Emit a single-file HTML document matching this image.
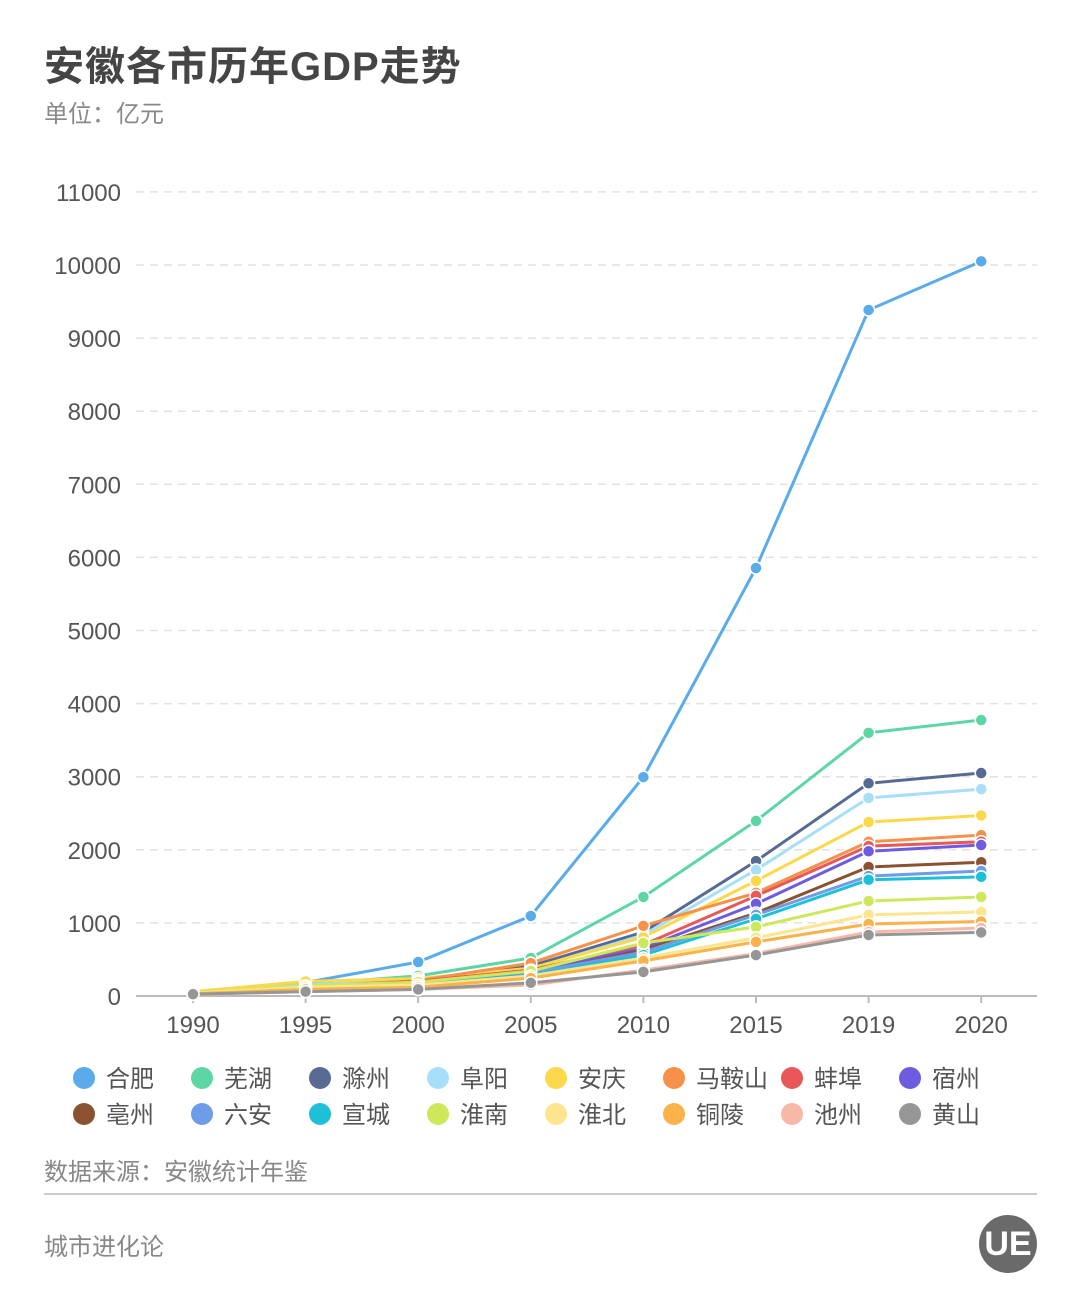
<!DOCTYPE html>
<html><head><meta charset="utf-8">
<style>
body{margin:0;background:#fff;font-family:"Liberation Sans","Noto Sans CJK SC",sans-serif;}
#wrap{position:relative;width:1080px;height:1296px;overflow:hidden;}
.t{position:absolute;white-space:nowrap;}
</style></head><body>
<div id="wrap">
<div class="t" style="left:44px;top:34px;font-size:40px;font-weight:bold;color:#454545;letter-spacing:1px;">安徽各市历年GDP走势</div>
<div class="t" style="left:44px;top:94px;font-size:24px;color:#888;">单位：亿元</div>
<svg id="chart" width="1080" height="1150" style="position:absolute;left:0;top:0"></svg>
<div class="t" style="left:44px;top:1152px;font-size:24px;color:#888;">数据来源：安徽统计年鉴</div>
<div style="position:absolute;left:44px;top:1193px;width:993px;height:2px;background:#ccc;"></div>
<div class="t" style="left:44px;top:1227px;font-size:24px;color:#888;">城市进化论</div>
<div style="position:absolute;left:979px;top:1215px;width:58px;height:58px;border-radius:50%;background:#6a6a6a;color:#fff;font-size:34px;font-weight:bold;text-align:center;line-height:58px;">UE</div>
</div>
<script>
const years=['1990','1995','2000','2005','2010','2015','2019','2020'];
const yTicks=[0,1000,2000,3000,4000,5000,6000,7000,8000,9000,10000,11000];
const names=['合肥','芜湖','滁州','阜阳','安庆','马鞍山','蚌埠','宿州','亳州','六安','宣城','淮南','淮北','铜陵','池州','黄山'];
const colors=['#5aabeb','#5dd6a6','#566a94','#a8dff8','#fbd94a','#f7914a','#e85858','#6e5ce0','#8a5230','#6f9ce8','#1ec0d8','#cde85a','#fde48e','#fbb24a','#f7b8a8','#969696'];
const sHefei=[60,185,465,1095,2995,5855,9385,10050];
const sWuhu=[55,160,275,520,1355,2395,3600,3775];
const sChuzhou=[45,120,200,410,875,1845,2910,3050];
const sFuyang=[50,150,230,370,835,1725,2710,2830];
const sAnqing=[60,200,240,380,805,1575,2380,2470];
const sMaanshan=[40,130,210,450,960,1410,2110,2200];
const sBengbu=[45,130,200,355,700,1370,2050,2110];
const sSuzhou=[40,110,170,330,655,1260,1980,2065];
const sBozhou=[35,100,150,300,630,1135,1765,1830];
const sLuan=[40,110,160,315,600,1110,1640,1710];
const sXuancheng=[35,100,150,290,560,1055,1590,1630];
const sHuainan=[50,140,190,340,725,945,1300,1355];
const sHuaibei=[40,120,150,275,520,795,1110,1150];
const sTongling=[30,90,120,245,480,740,985,1020];
const sChizhou=[20,60,90,150,355,580,875,930];
const sHuangshan=[25,60,90,180,330,560,835,870];
const series=[sHefei,sWuhu,sChuzhou,sFuyang,sAnqing,sMaanshan,sBengbu,sSuzhou,sBozhou,sLuan,sXuancheng,sHuainan,sHuaibei,sTongling,sChizhou,sHuangshan];
const NS='http://www.w3.org/2000/svg';
const svg=document.getElementById('chart');
const X0=193,XS=112.6,Y0=996,YK=0.0731;
const xs=i=>X0+i*XS, ys=v=>Y0-v*YK;
function mk(t,a){const e=document.createElementNS(NS,t);for(const k in a)e.setAttribute(k,a[k]);svg.appendChild(e);return e;}
yTicks.forEach(v=>{
  if(v>0){const g=mk('line',{x1:136,x2:1037,y1:ys(v),y2:ys(v),stroke:'#e2e2e2','stroke-width':1.5,'stroke-dasharray':'8,6'});
  
  }
  const t=mk('text',{x:121,y:ys(v)+9,'text-anchor':'end','font-size':24,fill:'#555','font-family':'Liberation Sans, sans-serif'});
  t.textContent=v;
  
  
});
const ax=mk('line',{x1:136,x2:1037,y1:Y0,y2:Y0,stroke:'#bbb','stroke-width':2});


years.forEach((y,i)=>{
  const tk=mk('line',{x1:xs(i),x2:xs(i),y1:Y0,y2:Y0+7,stroke:'#bbb','stroke-width':2});
  
  
  const t=mk('text',{x:xs(i),y:1033,'text-anchor':'middle','font-size':24,fill:'#555','font-family':'Liberation Sans, sans-serif'});
  t.textContent=y;
  
  
});
for(let s=0;s<series.length;s++){
  const d=series[s];
  const p=mk('polyline',{points:d.map((v,i)=>xs(i)+','+ys(v)).join(' '),fill:'none',stroke:colors[s],'stroke-width':3});
  
  
  d.forEach((v,i)=>{
    const c=mk('circle',{cx:xs(i),cy:ys(v),r:6,fill:colors[s],stroke:'#fff','stroke-width':1.5});
    
    
  });
}
names.forEach((n,i)=>{
  const col=i%8,row=Math.floor(i/8);
  const x=84+col*118,y=1078+row*36;
  const c=mk('circle',{cx:x,cy:y,r:11,fill:colors[i]});
  
  
  const t=mk('text',{x:x+22,y:y+9,'font-size':24,fill:'#555','font-family':'Liberation Sans, Noto Sans CJK SC, sans-serif'});
  t.textContent=n;
  
  
});
</script>
</body></html>
